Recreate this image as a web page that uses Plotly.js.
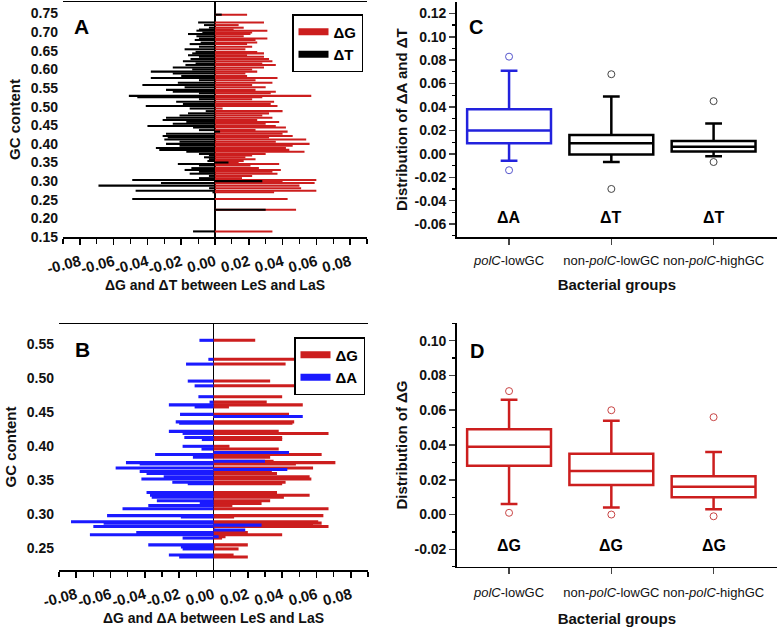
<!DOCTYPE html>
<html><head><meta charset="utf-8">
<script src="https://cdn.plot.ly/plotly-3.0.1.min.js"></script>
<style>html,body{margin:0;padding:0;background:#fff;}#chart{width:777px;height:629px;}</style>
</head><body><div id="chart"></div>
<script>
// ---------- Panel A data ----------
const gcA = [0.747,0.726,0.719,0.712,0.707,0.704,0.699,0.695,0.689,0.683,0.679,0.672,0.668,0.661,0.654,0.647,0.643,0.638,0.634,0.628,0.622,0.616,0.612,0.605,0.600,0.594,0.589,0.582,0.577,0.571,0.564,0.558,0.552,0.545,0.540,0.536,0.529,0.525,0.520,0.513,0.507,0.502,0.495,0.488,0.482,0.476,0.470,0.464,0.459,0.454,0.448,0.444,0.437,0.433,0.427,0.421,0.417,0.412,0.406,0.400,0.395,0.389,0.384,0.379,0.373,0.369,0.364,0.359,0.354,0.350,0.346,0.342,0.335,0.330,0.325,0.320,0.314,0.308,0.303,0.300,0.295,0.288,0.281,0.274,0.270,0.252,0.223,0.165];
const dG_A = [0.019,0.029,0.014,0.017,0.011,0.031,0.022,0.021,0.017,0.031,0.024,0.025,0.019,0.022,0.018,0.025,0.029,0.019,0.029,0.032,0.034,0.028,0.036,0.029,0.022,0.025,0.018,0.019,0.037,0.024,0.034,0.022,0.030,0.024,0.036,0.033,0.057,0.028,0.022,0.035,0.033,0.037,0.0045,0.040,0.032,0.028,0.034,0.025,0.038,0.030,0.036,0.042,0.024,0.043,0.040,0.046,0.032,0.054,0.036,0.056,0.046,0.042,0.044,0.053,0.030,0.022,0.018,0.024,0.017,0.014,0.038,0.021,0.026,0.039,0.034,0.037,0.022,0.016,0.060,0.040,0.059,0.050,0.051,0.060,0.035,0.043,0.048,0.034];
const dT_A = [0.004,-0.010,-0.0065,-0.0036,-0.0095,-0.011,-0.0075,-0.016,-0.011,-0.0095,-0.012,-0.0085,-0.015,-0.0095,-0.018,-0.0115,-0.0135,-0.016,-0.0095,-0.0145,-0.019,-0.0115,-0.0175,-0.025,-0.0135,-0.038,-0.025,-0.020,-0.038,-0.0095,-0.022,-0.043,-0.018,-0.029,-0.025,-0.0095,-0.051,-0.046,-0.0095,-0.023,-0.019,-0.041,-0.015,-0.0055,-0.016,-0.021,-0.029,-0.031,-0.017,-0.025,-0.040,-0.013,-0.0095,0.003,-0.029,-0.031,-0.028,-0.030,-0.021,-0.029,-0.021,-0.035,-0.033,-0.017,-0.0095,-0.0036,-0.0065,-0.0036,-0.0045,0.008,-0.022,-0.0095,-0.014,-0.018,-0.0095,-0.015,-0.0036,-0.0095,-0.049,0.028,-0.032,-0.069,-0.0035,-0.047,-0.0015,-0.049,0.030,-0.013];

// ---------- Panel B data ----------
const gcB = [0.556,0.528,0.521,0.496,0.489,0.473,0.465,0.461,0.458,0.447,0.444,0.436,0.434,0.422,0.419,0.413,0.410,0.400,0.396,0.391,0.388,0.384,0.378,0.376,0.374,0.368,0.366,0.363,0.360,0.355,0.352,0.347,0.345,0.332,0.328,0.325,0.320,0.316,0.313,0.308,0.298,0.296,0.289,0.287,0.284,0.282,0.277,0.273,0.270,0.267,0.265,0.255,0.252,0.249,0.240,0.237];
const dG_B = [0.0243,0.0516,0.042,0.033,0.049,0.040,0.031,0.052,0.009,0.044,0.048,0.047,0.046,0.038,0.067,0.040,0.040,0.0093,0.038,0.038,0.063,0.033,0.035,0.071,0.048,0.058,0.040,0.034,0.037,0.056,0.057,0.042,0.040,0.037,0.056,0.041,0.033,0.028,0.011,0.067,0.064,0.012,0.061,0.063,0.058,0.067,0.001,0.020,0.040,0.007,0.005,0.020,0.001,0.0146,0.0117,0.020];
const dA_B = [-0.0082,-0.003,-0.016,-0.015,-0.011,-0.0088,-0.0023,-0.026,-0.011,-0.0195,0.052,-0.022,-0.020,-0.026,-0.018,-0.017,-0.0068,-0.018,-0.007,0.044,-0.034,-0.012,0.030,-0.051,-0.043,-0.057,0.043,-0.043,-0.039,-0.029,-0.042,-0.024,-0.015,-0.039,-0.037,-0.036,-0.033,-0.008,-0.038,-0.053,-0.062,-0.019,-0.083,-0.064,0.028,-0.070,0.0185,-0.045,-0.072,0.003,-0.018,-0.038,-0.019,-0.018,-0.026,-0.020];

// ---------- Panels C / D data (box statistics) ----------
const groups = ['<i>polC</i>-lowGC','non-<i>polC</i>-lowGC','non-<i>polC</i>-highGC'];
const groupPos = [0,1,2];
const labelsC = ['ΔA','ΔT','ΔT'];
const labelsD = ['ΔG','ΔG','ΔG'];
const C_low = [-0.006,-0.007,-0.002];
const C_q1  = [0.009,-0.0005,0.002];
const C_med = [0.020,0.009,0.006];
const C_q3  = [0.038,0.016,0.011];
const C_up  = [0.071,0.049,0.026];
const C_outX = [0,0,1,1,2,2];
const C_outY = [0.083,-0.014,0.068,-0.030,0.045,-0.007];
const D_low = [0.006,0.004,0.003];
const D_q1  = [0.028,0.017,0.010];
const D_med = [0.039,0.025,0.016];
const D_q3  = [0.049,0.035,0.022];
const D_up  = [0.066,0.054,0.036];
const D_outX = [0,0,1,1,2,2];
const D_outY = [0.071,0.001,0.060,0.000,0.056,-0.001];

const tickA_vals = [-0.08,-0.06,-0.04,-0.02,0,0.02,0.04,0.06,0.08];
const tickA_text = ['-0.08','-0.06','-0.04','-0.02','0.00','0.02','0.04','0.06','0.08'];
const tickGA_vals = [0.15,0.20,0.25,0.30,0.35,0.40,0.45,0.50,0.55,0.60,0.65,0.70,0.75];
const tickGB_vals = [0.25,0.30,0.35,0.40,0.45,0.50,0.55];
const tickC_vals = [-0.06,-0.04,-0.02,0,0.02,0.04,0.06,0.08,0.10,0.12];
const tickD_vals = [-0.02,0,0.02,0.04,0.06,0.08,0.10];

const RED = '#cc1e1e', BLUE = '#1a1aff', BLK = '#000000';
const FONT = 'Liberation Sans, Arial, sans-serif';
const f2 = v => v.toFixed(2);

const data = [
  {type:'bar', orientation:'h', y:gcA, x:dG_A, width:0.0055, marker:{color:RED, line:{width:0}}, xaxis:'x', yaxis:'y', showlegend:false},
  {type:'bar', orientation:'h', y:gcA, x:dT_A, width:0.0055, marker:{color:BLK, line:{width:0}}, xaxis:'x', yaxis:'y', showlegend:false},
  {type:'scatter', mode:'lines', x:[null], y:[null], line:{color:RED, width:7}, name:'ΔG', legend:'legend', xaxis:'x', yaxis:'y'},
  {type:'scatter', mode:'lines', x:[null], y:[null], line:{color:BLK, width:7}, name:'ΔT', legend:'legend', xaxis:'x', yaxis:'y'},

  {type:'bar', orientation:'h', y:gcB, x:dG_B, width:0.0045, marker:{color:RED, line:{width:0}}, xaxis:'x2', yaxis:'y2', showlegend:false},
  {type:'bar', orientation:'h', y:gcB, x:dA_B, width:0.0045, marker:{color:BLUE, line:{width:0}}, xaxis:'x2', yaxis:'y2', showlegend:false},
  {type:'scatter', mode:'lines', x:[null], y:[null], line:{color:RED, width:7}, name:'ΔG', legend:'legend2', xaxis:'x2', yaxis:'y2'},
  {type:'scatter', mode:'lines', x:[null], y:[null], line:{color:BLUE, width:7}, name:'ΔA', legend:'legend2', xaxis:'x2', yaxis:'y2'},

  {type:'box', x:[groupPos[0]], q1:[C_q1[0]], median:[C_med[0]], q3:[C_q3[0]], lowerfence:[C_low[0]], upperfence:[C_up[0]],
   width:0.82, whiskerwidth:0.2, boxpoints:false, line:{color:'#2222dd', width:2.5}, fillcolor:'rgba(0,0,0,0)', xaxis:'x3', yaxis:'y3', showlegend:false},
  {type:'box', x:groupPos.slice(1), q1:C_q1.slice(1), median:C_med.slice(1), q3:C_q3.slice(1), lowerfence:C_low.slice(1), upperfence:C_up.slice(1),
   width:0.82, whiskerwidth:0.2, boxpoints:false, line:{color:BLK, width:2.5}, fillcolor:'rgba(0,0,0,0)', xaxis:'x3', yaxis:'y3', showlegend:false},
  {type:'scatter', mode:'markers', x:C_outX, y:C_outY, marker:{symbol:'circle-open', size:7, color:['#5555cc','#5555cc','#444','#444','#444','#444'], line:{width:1}}, xaxis:'x3', yaxis:'y3', showlegend:false},

  {type:'box', x:groupPos, q1:D_q1, median:D_med, q3:D_q3, lowerfence:D_low, upperfence:D_up,
   width:0.82, whiskerwidth:0.2, boxpoints:false, line:{color:RED, width:2.5}, fillcolor:'rgba(0,0,0,0)', xaxis:'x4', yaxis:'y4', showlegend:false},
  {type:'scatter', mode:'markers', x:D_outX, y:D_outY, marker:{symbol:'circle-open', size:7, color:'#c84444', line:{width:1}}, xaxis:'x4', yaxis:'y4', showlegend:false}
];

const tickFont = {family:FONT, size:14, color:'#111', weight:'bold'};
const titleFont = {family:FONT, size:14, color:'#111', weight:'bold'};

const xBar = (dom, anchor, title) => ({domain:dom, anchor:anchor, range:[-0.09,0.09], showline:true, mirror:true, linecolor:BLK, linewidth:1.5,
  ticks:'outside', ticklen:6, tickwidth:1.5, tickcolor:BLK, tickvals:tickA_vals, ticktext:tickA_text, tickangle:-15, ticklabelstandoff:3,
  minor:{dtick:0.01, tick0:0, ticks:'outside', ticklen:5, tickwidth:1.2, tickcolor:BLK, showgrid:false},
  showgrid:false, zeroline:true, zerolinecolor:BLK, zerolinewidth:1.5, tickfont:{family:FONT, size:15, color:'#111', weight:'bold'},
  title:{text:title, font:titleFont, standoff:4}});

const layout = {
  width:777, height:629, margin:{l:0,r:0,t:0,b:0}, paper_bgcolor:'#fff', plot_bgcolor:'#fff',
  barmode:'overlay', font:{family:FONT},
  xaxis: xBar([63/777, 367/777], 'y', 'ΔG and ΔT between LeS and LaS'),
  yaxis: {domain:[1-237/629, 1-2/629], anchor:'x', range:[0.15,0.781], showline:false, ticks:'', showgrid:false, zeroline:false,
    tickvals:tickGA_vals, ticktext:tickGA_vals.map(f2), tickfont:tickFont, ticklabelstandoff:4,
    title:{text:'GC content', font:{family:FONT, size:15, color:'#111', weight:'bold'}, standoff:6}},
  xaxis2: xBar([59/777, 368/777], 'y2', 'ΔG and ΔA between LeS and LaS'),
  yaxis2: {domain:[1-570/629, 1-324/629], anchor:'x2', range:[0.218,0.58], showline:false, ticks:'', showgrid:false, zeroline:false,
    tickvals:tickGB_vals, ticktext:tickGB_vals.map(f2), tickfont:tickFont, ticklabelstandoff:4,
    title:{text:'GC content', font:{family:FONT, size:15, color:'#111', weight:'bold'}, standoff:6}},
  xaxis3: {domain:[456.7/777, 1], anchor:'y3', range:[-0.512,2.62], showline:true, linecolor:BLK, linewidth:1.5, ticks:'outside', ticklen:6, tickwidth:1.5,
    tickvals:groupPos, ticktext:groups, tickfont:{family:FONT, size:13, color:'#111'}, ticklabelstandoff:5, showgrid:false, zeroline:false,
    title:{text:'Bacterial groups', font:{family:FONT, size:15, color:'#111', weight:'bold'}, standoff:12}},
  yaxis3: {domain:[1-237.3/629, 1-2/629], anchor:'x3', range:[-0.0713,0.1297], showline:true, linecolor:BLK, linewidth:1.5, ticks:'outside', ticklen:6, tickwidth:1.5,
    tickvals:tickC_vals, ticktext:tickC_vals.map(f2), tickfont:tickFont, showgrid:false, zeroline:false,
    minor:{dtick:0.01, tick0:0, ticks:'outside', ticklen:3, tickwidth:1.2, tickcolor:BLK, showgrid:false},
    title:{text:'Distribution of ΔA and ΔT', font:{family:FONT, size:15, color:'#111', weight:'bold'}, standoff:3}},
  xaxis4: {domain:[456.7/777, 1], anchor:'y4', range:[-0.512,2.62], showline:true, linecolor:BLK, linewidth:1.5, ticks:'outside', ticklen:6, tickwidth:1.5,
    tickvals:groupPos, ticktext:groups, tickfont:{family:FONT, size:13, color:'#111'}, ticklabelstandoff:7, showgrid:false, zeroline:false,
    title:{text:'Bacterial groups', font:{family:FONT, size:15, color:'#111', weight:'bold'}, standoff:14}},
  yaxis4: {domain:[1-566.7/629, 1-323.3/629], anchor:'x4', range:[-0.030,0.110], showline:true, linecolor:BLK, linewidth:1.5, ticks:'outside', ticklen:6, tickwidth:1.5,
    tickvals:tickD_vals, ticktext:tickD_vals.map(f2), tickfont:tickFont, showgrid:false, zeroline:false,
    minor:{dtick:0.01, tick0:0, ticks:'outside', ticklen:3, tickwidth:1.2, tickcolor:BLK, showgrid:false},
    title:{text:'Distribution of ΔG', font:{family:FONT, size:15, color:'#111', weight:'bold'}, standoff:3}},
  legend: {x:363/777, y:1-14/629, xanchor:'right', yanchor:'top', bordercolor:BLK, borderwidth:1.5, bgcolor:'#fff',
    font:{family:FONT, size:15, color:BLK, weight:'bold'}, tracegroupgap:0, itemwidth:30},
  legend2: {x:365/777, y:1-337/629, xanchor:'right', yanchor:'top', bordercolor:BLK, borderwidth:1.5, bgcolor:'#fff',
    font:{family:FONT, size:15, color:BLK, weight:'bold'}, tracegroupgap:0, itemwidth:30},
  annotations: [
    {text:'A', xref:'paper', yref:'paper', x:72/777, y:1-13/629, xanchor:'left', yanchor:'top', showarrow:false, font:{family:FONT, size:21, color:BLK, weight:'bold'}},
    {text:'B', xref:'paper', yref:'paper', x:73/777, y:1-336/629, xanchor:'left', yanchor:'top', showarrow:false, font:{family:FONT, size:21, color:BLK, weight:'bold'}},
    {text:'C', xref:'paper', yref:'paper', x:467/777, y:1-14/629, xanchor:'left', yanchor:'top', showarrow:false, font:{family:FONT, size:20, color:BLK, weight:'bold'}},
    {text:'D', xref:'paper', yref:'paper', x:468/777, y:1-338/629, xanchor:'left', yanchor:'top', showarrow:false, font:{family:FONT, size:20, color:BLK, weight:'bold'}}
  ].concat(groupPos.map((p,i)=>({text:labelsC[i], xref:'x3', yref:'y3', x:p, y:-0.054, showarrow:false, font:{family:FONT, size:16, color:BLK, weight:'bold'}})))
   .concat(groupPos.map((p,i)=>({text:labelsD[i], xref:'x4', yref:'y4', x:p, y:-0.018, showarrow:false, font:{family:FONT, size:16, color:BLK, weight:'bold'}})))
};

Plotly.newPlot('chart', data, layout, {staticPlot:true, displayModeBar:false});
</script></body></html>
